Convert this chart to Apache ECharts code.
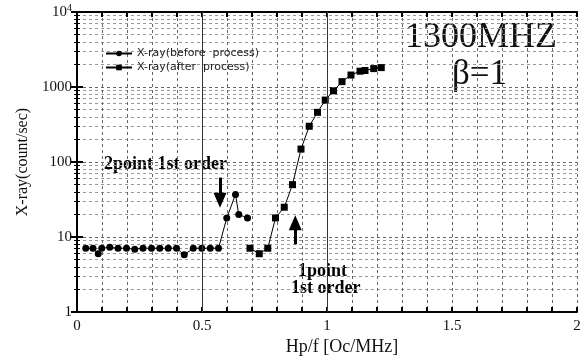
<!DOCTYPE html>
<html>
<head>
<meta charset="utf-8">
<script src="https://cdn.jsdelivr.net/npm/echarts@6/dist/echarts.min.js"></script>
<style>
  html, body { margin: 0; padding: 0; background: #fff; }
  #chart { width: 586px; height: 361px; }
</style>
</head>
<body>
<div id="chart"></div>
<script>
// X-ray(before process)
const beforeX = [0.035, 0.064, 0.085, 0.099, 0.131, 0.164, 0.198, 0.231, 0.264, 0.298, 0.331,
  0.365, 0.398, 0.429, 0.465, 0.499, 0.533, 0.566, 0.599, 0.634, 0.647, 0.682]
const beforeY = [7.1, 7.1, 6.0, 7.1, 7.3, 7.1, 7.1, 6.9, 7.1, 7.1, 7.1,
  7.1, 7.1, 5.8, 7.1, 7.1, 7.1, 7.1, 18, 37, 20, 18]
// X-ray(after process)
const afterX = [0.692, 0.729, 0.763, 0.794, 0.829, 0.862, 0.896, 0.929, 0.962, 0.993,
  1.026, 1.060, 1.096, 1.132, 1.152, 1.187, 1.217]
const afterY = [7.1, 6.0, 7.1, 18, 25, 50, 149, 300, 460, 670,
  890, 1180, 1445, 1625, 1660, 1760, 1815]
const xTickLabels = [0, 0.5, 1, 1.5, 2]
const yTickLabels = [1, 10, 100, 1000, 10000]
// arrows [x, from, to]
const downArrow = [0.572, 62, 31]
const upArrow = [0.873, 8, 15.5]

const serif = 'Liberation Serif'
const chart = echarts.init(document.getElementById('chart'))

function pairs (xs, ys) {
  return xs.map((x, i) => [x, ys[i]])
}

function arrow (a) {
  return [{ coord: [a[0], a[1]] }, { coord: [a[0], a[2]] }]
}

const option = {
  animation: false,
  backgroundColor: '#fff',
  grid: { left: 77, right: 9, top: 12, bottom: 42 },
  legend: {
    orient: 'vertical',
    left: 100,
    top: 43,
    itemWidth: 26,
    itemHeight: 7,
    itemGap: 3,
    textStyle: { fontFamily: 'DejaVu Sans', fontSize: 11, color: '#222' },
    data: ['X-ray(before  process)', 'X-ray(after  process)']
  },
  xAxis: [
    {
      type: 'value',
      min: 0,
      max: 2,
      interval: 0.1,
      name: 'Hp/f [Oc/MHz]',
      nameLocation: 'middle',
      nameGap: 22,
      nameTextStyle: { fontFamily: serif, fontSize: 18, color: '#111', padding: [0, 0, 0, 30] },
      axisLine: { lineStyle: { color: '#000', width: 2 } },
      axisTick: { inside: true, length: 5, lineStyle: { color: '#000', width: 2 } },
      axisLabel: {
        fontFamily: serif,
        fontSize: 15,
        color: '#111',
        margin: 6,
        formatter: function (v) {
          const hit = xTickLabels.find(t => Math.abs(t - v) < 1e-6)
          return hit === undefined ? '' : String(hit)
        }
      },
      splitLine: { show: true, lineStyle: { color: '#666', type: [3, 3], width: 1 } }
    },
    {
      type: 'value',
      position: 'top',
      min: 0,
      max: 2,
      interval: 0.1,
      axisLine: { lineStyle: { color: '#000', width: 2 } },
      axisTick: { inside: true, length: 5, lineStyle: { color: '#000', width: 2 } },
      axisLabel: { show: false },
      splitLine: { show: false }
    }
  ],
  yAxis: [
    {
      type: 'log',
      logBase: 10,
      min: 1,
      max: 10000,
      name: 'X-ray(count/sec)',
      nameLocation: 'middle',
      nameGap: 46,
      nameTextStyle: { fontFamily: serif, fontSize: 16, color: '#111' },
      axisLine: { lineStyle: { color: '#000', width: 2 } },
      axisTick: { inside: true, length: 6, lineStyle: { color: '#000', width: 2 } },
      minorTick: { show: true, splitNumber: 9, length: 3, lineStyle: { color: '#000' } },
      axisLabel: {
        fontFamily: serif,
        fontSize: 15,
        color: '#111',
        margin: 5,
        formatter: function (v) {
          if (!yTickLabels.includes(v)) return ''
          return v === 10000 ? '10{sup|4}' : String(v)
        },
        rich: { sup: { fontFamily: serif, fontSize: 10, verticalAlign: 'top', padding: [0, 0, 8, 0] } }
      },
      splitLine: { show: true, lineStyle: { color: '#666', type: [3, 3], width: 1 } },
      minorSplitLine: { show: true, lineStyle: { color: '#999', type: [3, 3], width: 1 } }
    },
    {
      type: 'log',
      logBase: 10,
      min: 1,
      max: 10000,
      position: 'right',
      axisLine: { lineStyle: { color: '#000', width: 2 } },
      axisTick: { inside: true, length: 6, lineStyle: { color: '#000', width: 2 } },
      minorTick: { show: true, splitNumber: 9, length: 3, lineStyle: { color: '#000' } },
      axisLabel: { show: false },
      splitLine: { show: false }
    }
  ],
  series: [
    {
      name: 'X-ray(before  process)',
      type: 'line',
      data: pairs(beforeX, beforeY),
      symbol: 'circle',
      symbolSize: 7,
      itemStyle: { color: '#000' },
      lineStyle: { color: '#000', width: 1 },
      markLine: {
        silent: true,
        symbol: ['none', 'none'],
        label: { show: false },
        lineStyle: { color: '#333', type: 'solid', width: 1 },
        data: [{ xAxis: 0.5 }, { xAxis: 1 }]
      }
    },
    {
      name: 'X-ray(after  process)',
      type: 'line',
      data: pairs(afterX, afterY),
      symbol: 'rect',
      symbolSize: 7,
      itemStyle: { color: '#000' },
      lineStyle: { color: '#000', width: 1 },
      markLine: {
        silent: true,
        symbol: ['none', 'triangle'],
        symbolSize: [13, 15],
        label: { show: false },
        lineStyle: { color: '#000', type: 'solid', width: 3 },
        data: [arrow(downArrow), arrow(upArrow)]
      }
    }
  ],
  graphic: [
    {
      type: 'text',
      left: 405,
      top: 20,
      style: { text: '1300MHZ', fontFamily: serif, fontSize: 36, fill: '#111' }
    },
    {
      type: 'text',
      left: 452,
      top: 57,
      style: { text: 'β=1', fontFamily: serif, fontSize: 35, fill: '#111' }
    },
    {
      type: 'text',
      left: 104,
      top: 155,
      style: { text: '2point 1st order', fontFamily: serif, fontWeight: 'bold', fontSize: 18, fill: '#000' }
    },
    {
      type: 'text',
      left: 298,
      top: 262,
      style: { text: '1point', fontFamily: serif, fontWeight: 'bold', fontSize: 18, fill: '#000' }
    },
    {
      type: 'text',
      left: 291,
      top: 279,
      style: { text: '1st order', fontFamily: serif, fontWeight: 'bold', fontSize: 18, fill: '#000' }
    }
  ]
}

chart.setOption(option)
</script>
</body>
</html>
